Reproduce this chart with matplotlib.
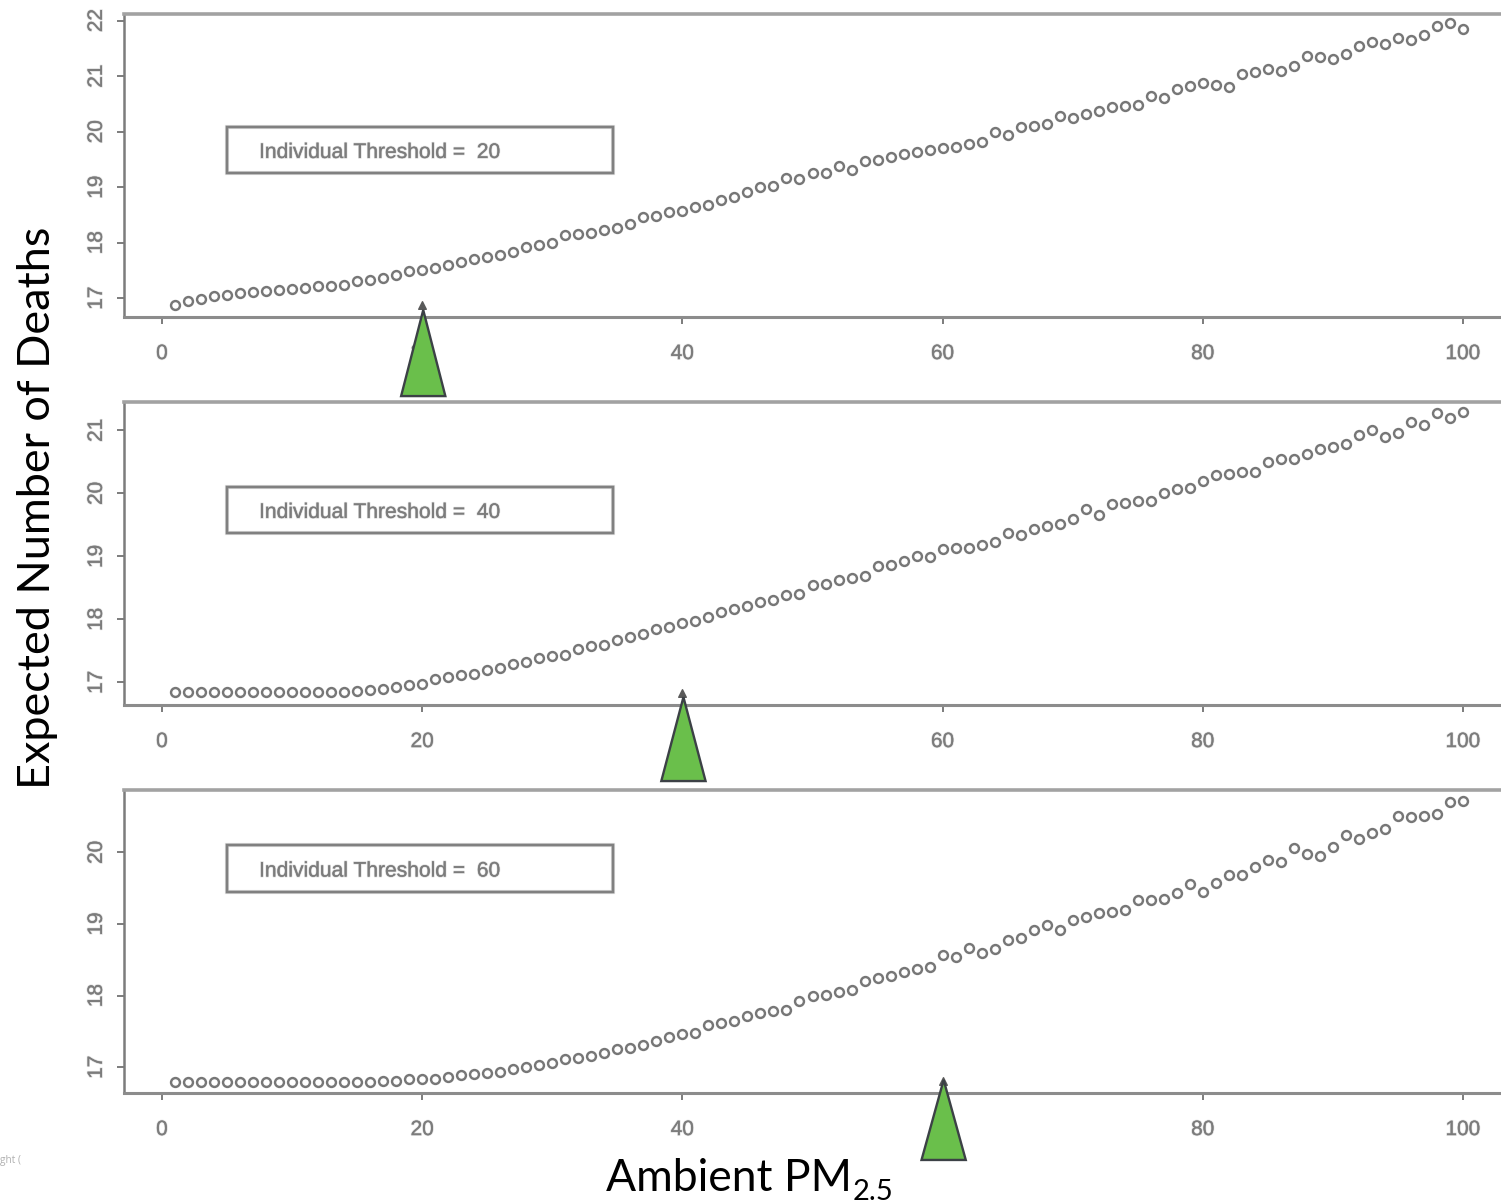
import matplotlib
matplotlib.use("Agg")
import matplotlib.pyplot as plt
import matplotlib.patheffects as pe
from matplotlib.patches import Rectangle

W, H = 1501, 1204

pm = list(range(1, 101))
deaths_20 = [16.88,16.94,16.99,17.03,17.06,17.09,17.11,17.13,17.15,17.16,
             17.18,17.21,17.22,17.24,17.30,17.32,17.36,17.42,17.48,17.50,
             17.55,17.60,17.66,17.70,17.75,17.78,17.83,17.93,17.96,17.99,
             18.14,18.15,18.17,18.23,18.26,18.34,18.47,18.48,18.56,18.57,
             18.65,18.68,18.77,18.82,18.92,19.01,19.02,19.16,19.15,19.26,
             19.25,19.39,19.31,19.47,19.49,19.54,19.59,19.64,19.67,19.70,
             19.73,19.78,19.82,19.99,19.94,20.09,20.11,20.14,20.29,20.24,
             20.32,20.38,20.45,20.47,20.48,20.65,20.60,20.77,20.83,20.88,
             20.84,20.80,21.04,21.07,21.13,21.10,21.19,21.36,21.35,21.31,
             21.40,21.55,21.62,21.58,21.68,21.66,21.75,21.90,21.95,21.85]
deaths_40 = [16.84,16.84,16.84,16.84,16.84,16.84,16.84,16.84,16.84,16.84,
             16.84,16.84,16.84,16.85,16.86,16.88,16.90,16.93,16.96,16.98,
             17.05,17.08,17.11,17.13,17.20,17.22,17.29,17.33,17.38,17.42,
             17.44,17.53,17.58,17.60,17.67,17.72,17.76,17.85,17.88,17.94,
             17.98,18.03,18.11,18.17,18.21,18.28,18.31,18.39,18.40,18.55,
             18.56,18.63,18.66,18.69,18.84,18.86,18.93,19.01,18.99,19.12,
             19.14,19.13,19.18,19.23,19.37,19.34,19.43,19.48,19.51,19.60,
             19.75,19.66,19.83,19.84,19.88,19.88,20.01,20.07,20.08,20.20,
             20.29,20.30,20.34,20.34,20.49,20.54,20.54,20.62,20.71,20.74,
             20.78,20.92,21.01,20.89,20.95,21.13,21.08,21.27,21.19,21.29]
deaths_60 = [16.80,16.80,16.80,16.80,16.80,16.80,16.80,16.80,16.80,16.80,
             16.80,16.80,16.80,16.80,16.80,16.80,16.81,16.81,16.83,16.84,
             16.84,16.86,16.89,16.90,16.92,16.93,16.98,17.00,17.03,17.06,
             17.11,17.13,17.15,17.20,17.25,17.27,17.31,17.37,17.42,17.46,
             17.48,17.59,17.62,17.65,17.72,17.76,17.79,17.80,17.92,17.99,
             18.01,18.05,18.08,18.20,18.24,18.27,18.33,18.37,18.40,18.56,
             18.54,18.66,18.59,18.65,18.77,18.80,18.91,18.98,18.91,19.05,
             19.10,19.15,19.16,19.20,19.33,19.33,19.35,19.43,19.56,19.44,
             19.57,19.68,19.68,19.79,19.89,19.86,20.06,19.98,19.95,20.08,
             20.24,20.18,20.27,20.33,20.51,20.49,20.51,20.54,20.70,20.72]

thresholds = [20, 40, 60]
series = [deaths_20, deaths_40, deaths_60]
y_ticks = [[17, 18, 19, 20, 21, 22], [17, 18, 19, 20, 21], [17, 18, 19, 20]]
y_limits = [(16.66, 22.12), (16.64, 21.45), (16.64, 20.87)]
x_ticks = [0, 20, 40, 60, 80, 100]
x_limits = (-2.92, 102.92)
legend_text = "Individual Threshold =  {}"

# layout, in reference pixels
axes_top = [14, 402, 790]
axes_height = 303
legend_y = [(0.475, 0.627), (0.568, 0.719), (0.663, 0.818)]
arrow_y = [(0.023, -0.261), (0.026, -0.251), (0.043, -0.221)]

GREY = "#7c7c7c"
LIGHT = "#8c8c8c"
soft = lambda w, c=GREY, a=0.25: [pe.withStroke(linewidth=w, foreground=c, alpha=a), pe.Normal()]

plt.rcParams["font.family"] = ["Liberation Sans", "DejaVu Sans"]
fig = plt.figure(figsize=(W / 100, H / 100), dpi=100, facecolor="white")

for i in range(3):
    ax = fig.add_axes([124 / W, 1 - (axes_top[i] + axes_height) / H, (W - 124) / W, axes_height / H])
    ax.set_xlim(*x_limits)
    ax.set_ylim(*y_limits[i])
    ax.patch.set_alpha(0)
    ax.spines["right"].set_visible(False)
    ax.spines["top"].set_color("#a2a2a2")
    ax.spines["top"].set_linewidth(2.6)
    ax.spines["bottom"].set_color(LIGHT)
    ax.spines["bottom"].set_linewidth(2.2)
    ax.spines["left"].set_color(GREY)
    ax.spines["left"].set_linewidth(1.8)

    ax.plot(pm, series[i], ls="none", marker="o", ms=6.4, mfc="none", mec="#777777", mew=1.75,
            clip_on=False)
    ax.scatter([thresholds[i]], [0.04], marker="^", s=30, color="#5a5a5a",
               transform=ax.get_xaxis_transform(), clip_on=False, zorder=4)

    ax.set_xticks(x_ticks)
    ax.set_yticks(y_ticks[i])
    ax.tick_params(axis="x", length=5, width=1.4, color=GREY, labelcolor=GREY, labelsize=15, pad=14.5)
    ax.tick_params(axis="y", length=5, width=1.4, color=GREY, labelcolor=GREY, labelsize=15, pad=8)
    for lab in ax.get_yticklabels():
        lab.set_rotation(90)
        lab.set_va("center")
    for lab in ax.get_xticklabels() + ax.get_yticklabels():
        lab.set_path_effects(soft(1.2))

    tr = ax.get_xaxis_transform()
    y0, y1 = legend_y[i]
    ax.add_patch(Rectangle((5.0, y0), 29.67, y1 - y0, transform=tr, fill=False, ec="#808080", lw=1.7,
                           path_effects=soft(3.0)))
    ax.text(7.46, (y0 + y1) / 2 - 0.008, legend_text.format(thresholds[i]), transform=tr, color=GREY,
            fontsize=15.15, va="center", ha="left", path_effects=soft(1.2))

    t = thresholds[i]
    ya, yb = arrow_y[i]
    ax.fill([t - 1.62, t + 0.08, t + 1.78], [yb, ya, yb], transform=tr, clip_on=False, zorder=5,
            facecolor="#6abf4b", edgecolor="#3c4146", linewidth=1.7, joinstyle="miter")

fig.text(38 / W, 1 - 508 / H, "Expected Number of Deaths", rotation=90, family="Lato", fontsize=32.4,
         color="black", ha="center", va="center")
fig.text(606 / W, 1 - 1191 / H, "Ambient PM", family="Lato", fontsize=32, color="black", ha="left", va="baseline")
fig.text(853 / W, 1 - 1200 / H, "2.5", family="Lato", fontsize=21, color="black", ha="left", va="baseline")
fig.text(0, 1 - 1160 / H, "ght (", family="Open Sans", fontsize=7.3, color="#b0b0b0", ha="left", va="center")

fig.savefig("out.png", dpi=100, facecolor="white")
